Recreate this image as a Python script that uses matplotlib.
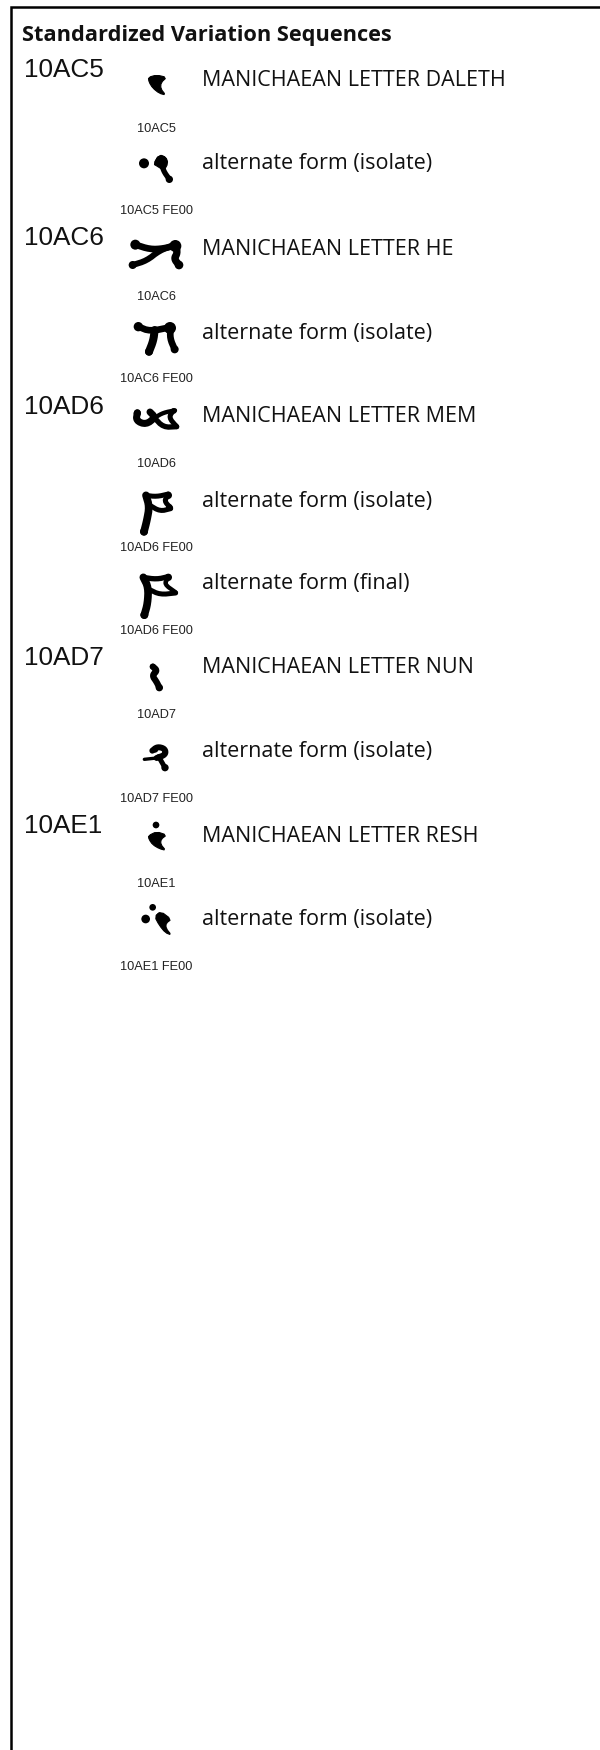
import matplotlib
matplotlib.use('Agg')
import matplotlib.pyplot as plt
from matplotlib.patches import Polygon, Circle

title = 'Standardized Variation Sequences'

# big code on the left
codes = ['10AC5', '10AC6', '10AD6', '10AD7', '10AE1']
code_y = [77, 245, 414, 665, 833]

# one row per glyph
names = ['MANICHAEAN LETTER DALETH', 'alternate form (isolate)',
         'MANICHAEAN LETTER HE', 'alternate form (isolate)',
         'MANICHAEAN LETTER MEM', 'alternate form (isolate)', 'alternate form (final)',
         'MANICHAEAN LETTER NUN', 'alternate form (isolate)',
         'MANICHAEAN LETTER RESH', 'alternate form (isolate)']
name_y = [86, 169, 255, 339, 422, 507, 589, 673, 757, 842, 925]

seqs = ['10AC5', '10AC5 FE00', '10AC6', '10AC6 FE00', '10AD6', '10AD6 FE00', '10AD6 FE00',
        '10AD7', '10AD7 FE00', '10AE1', '10AE1 FE00']
seq_y = [132, 214, 300, 382, 467, 551, 634, 718, 802, 887, 970]

# glyph shapes, traced at 3x. y0 = top of the traced crop
# strokes: (width, points), blobs: (x, y, r), fills: points
glyphs = [
    dict(y0=0, fills=[[(445, 232), (470, 225), (500, 232), (483, 248), (482, 266), (497, 285),
                       (478, 280), (458, 264), (447, 246)]]),
    dict(y0=0, blobs=[(432, 490, 15), (508, 538, 11), (484, 484, 18)],
         fills=[[(460, 492), (478, 464), (498, 472), (504, 490), (492, 512), (474, 500)]],
         strokes=[(16, [(486, 490), (490, 512), (508, 538)])]),
    dict(y0=220, blobs=[(406, 74, 15), (398, 135, 12), (526, 78, 18), (537, 135, 13)],
         strokes=[(20, [(406, 74), (450, 88), (490, 86), (526, 76)]),
                  (18, [(398, 135), (440, 122), (478, 92), (520, 76)]),
                  (22, [(528, 78), (532, 100), (522, 116), (537, 135)])]),
    dict(y0=220, blobs=[(415, 320, 14), (510, 324, 18), (447, 395, 12), (524, 388, 12)],
         strokes=[(20, [(415, 320), (450, 334), (510, 322)]),
                  (24, [(464, 330), (460, 362), (447, 395)]),
                  (20, [(512, 325), (510, 355), (524, 388)])]),
    dict(y0=220, blobs=[(412, 580, 11), (522, 573, 8), (526, 618, 9)],
         strokes=[(21, [(412, 578), (408, 602), (438, 614), (466, 592), (450, 576)]),
                  (13, [(466, 592), (490, 578), (525, 571)]),
                  (16, [(462, 592), (490, 622), (530, 620)]),
                  (15, [(520, 572), (506, 592), (530, 620)])]),
    dict(y0=470, blobs=[(432, 185, 12), (505, 76, 11), (508, 112, 10)],
         strokes=[(23, [(438, 76), (448, 110), (441, 150), (432, 185)]),
                  (15, [(436, 76), (470, 80), (505, 72)]),
                  (15, [(506, 76), (492, 92), (512, 114)]),
                  (15, [(448, 105), (480, 124), (512, 116)])]),
    dict(y0=470, blobs=[(433, 435, 12), (505, 322, 11)],
         strokes=[(23, [(430, 322), (445, 352), (443, 400), (433, 435)]),
                  (16, [(428, 322), (470, 328), (505, 320)]),
                  (13, [(505, 324), (492, 342), (527, 367)]),
                  (15, [(447, 358), (480, 374), (527, 369)])]),
    dict(y0=470, blobs=[(458, 590, 9), (478, 653, 11)],
         strokes=[(19, [(459, 590), (472, 602), (456, 616), (470, 636), (478, 653)])]),
    dict(y0=720, blobs=[(495, 143, 11), (465, 88, 10)],
         strokes=[(18, [(457, 92), (472, 80), (495, 86), (497, 104), (470, 114)]),
                  (10, [(433, 118), (470, 114)]),
                  (15, [(476, 110), (495, 143)])]),
    dict(y0=720, blobs=[(468, 315, 10)],
         fills=[[(445, 347), (470, 335), (500, 345), (483, 358), (482, 373), (497, 391),
                 (478, 386), (458, 374), (447, 358)]]),
    dict(y0=720, blobs=[(458, 562, 10), (437, 597, 13), (480, 590, 12)],
         fills=[[(464, 590), (482, 574), (514, 598), (498, 610), (498, 625), (514, 645),
                 (496, 638), (478, 616)]]),
]


# corner cutting, so the traced shapes don't look like polylines
def smooth(pts, closed=False, n=2):
    for _ in range(n):
        out = [] if closed else [pts[0]]
        m = len(pts) if closed else len(pts) - 1
        for i in range(m):
            a, b = pts[i], pts[(i + 1) % len(pts)]
            out.append((0.75 * a[0] + 0.25 * b[0], 0.75 * a[1] + 0.25 * b[1]))
            out.append((0.25 * a[0] + 0.75 * b[0], 0.25 * a[1] + 0.75 * b[1]))
        if not closed:
            out.append(pts[-1])
        pts = out
    return pts


fig = plt.figure(figsize=(6, 17.5), dpi=100)
ax = fig.add_axes([0, 0, 1, 1])
ax.set_xlim(0, 600)
ax.set_ylim(1750, 0)
ax.axis('off')

# frame: only top and left
ax.plot([600, 10.5, 10.5], [6.5, 6.5, 1750], color='black', lw=1.8, solid_joinstyle='miter')

ax.text(22, 41.5, title, fontsize=15.65, fontweight='bold', family='Open Sans', color='#111111')

for code, y in zip(codes, code_y):
    ax.text(23.5, y, code, fontsize=18.8, family='Liberation Sans', color='#111111')

for name, y in zip(names, name_y):
    ax.text(202, y, name, fontsize=15.5, family='Open Sans', color='#111111')

for seq, y in zip(seqs, seq_y):
    ax.text(156, y, seq, fontsize=9.2, family='Liberation Sans', ha='center', color='#222222')

# no installed font has Manichaean, so the glyphs are drawn
for g in glyphs:
    y0 = g['y0']
    for pts in g.get('fills', []):
        pts = smooth(pts, closed=True, n=1)
        ax.add_patch(Polygon([(x / 3, y0 + y / 3) for x, y in pts], closed=True, fc='black', ec='black',
                             lw=0.8, joinstyle='round'))
    for x, y, r in g.get('blobs', []):
        ax.add_patch(Circle((x / 3, y0 + y / 3), r / 3, fc='black', ec='none'))
    for w, pts in g.get('strokes', []):
        pts = smooth(pts)
        # width is in 3x px, linewidth in points
        ax.plot([p[0] / 3 for p in pts], [y0 + p[1] / 3 for p in pts], color='black',
                lw=w / 3 * 0.72, solid_capstyle='round', solid_joinstyle='round')

fig.savefig('out.png', dpi=100)
